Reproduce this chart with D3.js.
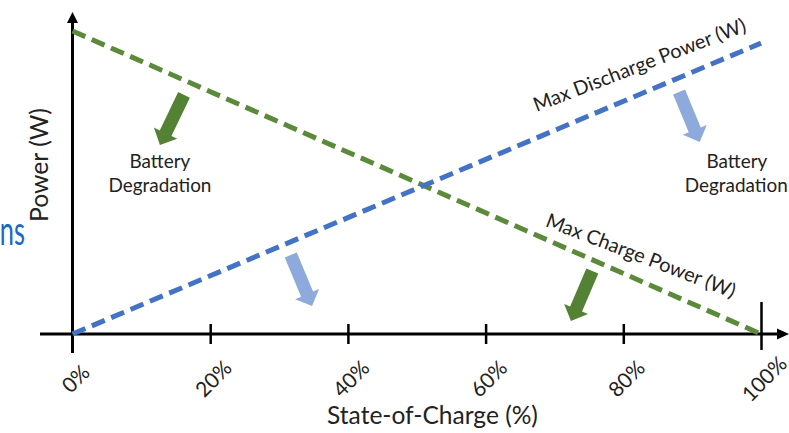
<!DOCTYPE html>
<html>
<head>
<meta charset="utf-8">
<script src="https://cdn.jsdelivr.net/npm/d3@7"></script>
<style>
  html, body { margin: 0; padding: 0; background: #fff; }
  svg { display: block; }
  text { font-family: Lato, "Open Sans", sans-serif; fill: #222; }
</style>
</head>
<body>
<svg id="chart" width="789" height="433"></svg>
<script>
// State-of-charge axis (percent) and its tick labels
const socTicks = [0, 20, 40, 60, 80, 100];
const socTickLabels = ["0%", "20%", "40%", "60%", "80%", "100%"];

// Power limits (relative units) at the two ends of the SOC range
const socPoints = [0, 100];
const maxChargePower = [100, 0];
const maxDischargePower = [0, 96];

// Degradation arrows: tail and tip in (SOC %, power) units
const chargeArrows = [
  { from: [16.2, 78.9], to: [12.7, 62.4] },
  { from: [75.5, 20.8], to: [72.4, 4.3] }
];
const dischargeArrows = [
  { from: [31.7, 26.1], to: [34.8, 9.2] },
  { from: [88.1, 79.9], to: [91.1, 63.4] }
];

// Annotation text anchors in (SOC %, power) units
const degradationNotes = [
  { lines: ["Battery", "Degradation"], soc: [12.7, 12.7], power: [54.9, 46.7] },
  { lines: ["Battery", "Degradation"], soc: [96.5, 96.4], power: [54.9, 46.7] }
];

const green = "#5b8a3a", greenArrow = "#548235";
const blue = "#4472c4", blueArrow = "#8eaadc";

const svg = d3.select("#chart");
const x = d3.scaleLinear().domain([0, 100]).range([72.5, 761]);
const y = d3.scaleLinear().domain([0, 100]).range([334, 31]);

// Scale a text element's font size so that it spans a given width
function fitWidth(sel, target) {
  const w = sel.node().getComputedTextLength();
  const fs = parseFloat(sel.attr("font-size"));
  sel.attr("font-size", fs * target / w);
  return fs * target / w;
}

// Partially visible heading text on the left edge
svg.append("text")
  .attr("transform", "translate(25,245) scale(0.62,1)")
  .attr("text-anchor", "end")
  .attr("font-size", 41)
  .style("fill", "#1a6bbf")
  .text("ns");

// ---- Axes ----
const axisG = svg.append("g");
// vertical power axis with arrowhead
axisG.append("line")
  .attr("x1", x(0)).attr("x2", x(0))
  .attr("y1", 353).attr("y2", 20)
  .attr("stroke", "#000").attr("stroke-width", 3);
axisG.append("path")
  .attr("d", `M${x(0)},12 L${x(0) - 5.5},23 L${x(0) + 5.5},23 Z`)
  .attr("fill", "#000");
// horizontal SOC axis with arrowhead
axisG.append("line")
  .attr("x1", 40).attr("x2", 780)
  .attr("y1", y(0)).attr("y2", y(0))
  .attr("stroke", "#000").attr("stroke-width", 3);
axisG.append("path")
  .attr("d", `M789,${y(0)} L777,${y(0) - 5.5} L777,${y(0) + 5.5} Z`)
  .attr("fill", "#000");

const xAxis = d3.axisBottom(x)
  .tickValues(socTicks)
  .tickFormat((d, i) => socTickLabels[i])
  .tickSize(0);
const xg = svg.append("g")
  .attr("transform", `translate(0,${y(0)})`)
  .call(xAxis);
xg.select(".domain").remove();
xg.selectAll(".tick line")
  .attr("y1", d => d === 100 ? -32 : -10)
  .attr("y2", d => d === 100 ? 16 : 10)
  .attr("stroke", "#000").attr("stroke-width", 2.5)
  .filter(d => d === 0).remove();
xg.selectAll(".tick text")
  .attr("font-size", 21)
  .attr("fill", "#222")
  .attr("dy", null)
  .attr("y", 0)
  .attr("text-anchor", "middle")
  .attr("dominant-baseline", "central")
  .attr("transform", "translate(2,44) rotate(-45)");

// Axis titles
const yTitle = svg.append("text")
  .attr("transform", "translate(48,165) rotate(-90)")
  .attr("text-anchor", "middle")
  .attr("font-size", 20)
  .text("Power (W)");
fitWidth(yTitle, 114);

const xTitle = svg.append("text")
  .attr("x", 432.5).attr("y", 424)
  .attr("text-anchor", "middle")
  .attr("font-size", 20)
  .text("State-of-Charge (%)");
fitWidth(xTitle, 211);

// ---- Power limit lines ----
const line = d3.line().x(d => x(d[0])).y(d => y(d[1]));
const chargeData = socPoints.map((s, i) => [s, maxChargePower[i]]);
const dischargeData = socPoints.map((s, i) => [s, maxDischargePower[i]]);

svg.append("path")
  .datum(chargeData)
  .attr("d", line)
  .attr("fill", "none")
  .attr("stroke", green).attr("stroke-width", 5)
  .attr("stroke-dasharray", "14,7");
svg.append("path")
  .datum(dischargeData)
  .attr("d", line)
  .attr("fill", "none")
  .attr("stroke", blue).attr("stroke-width", 5)
  .attr("stroke-dasharray", "14,7");

// Labels running along each line
function lineLabel(data, soc, offset, angle, text) {
  const t = soc / 100;
  const px = x(soc);
  const py = y(data[0][1] + (data[1][1] - data[0][1]) * t) - offset;
  return svg.append("text")
    .attr("transform", `translate(${px},${py}) rotate(${angle})`)
    .attr("text-anchor", "middle")
    .attr("font-size", 18)
    .text(text);
}
const dLabel = lineLabel(dischargeData, 82.7, 22, -21, "Max Discharge Power (W)");
const fs = fitWidth(dLabel, 226);
lineLabel(chargeData, 82.2, 18, 21, "Max Charge Power (W)").attr("font-size", fs);

// ---- Degradation arrows ----
function blockArrow(a, color) {
  const tx = x(a.from[0]), ty = y(a.from[1]);
  const px = x(a.to[0]), py = y(a.to[1]);
  const len = Math.hypot(px - tx, py - ty);
  const ux = (px - tx) / len, uy = (py - ty) / len;
  const nx = -uy, ny = ux;
  const sw = 6.5, hw = 13, hl = 13;
  const bx = px - ux * hl, by = py - uy * hl;
  const pts = [
    [tx + nx * sw, ty + ny * sw],
    [bx + nx * sw, by + ny * sw],
    [bx + nx * hw, by + ny * hw],
    [px, py],
    [bx - nx * hw, by - ny * hw],
    [bx - nx * sw, by - ny * sw],
    [tx - nx * sw, ty - ny * sw]
  ];
  svg.append("path")
    .attr("d", "M" + pts.map(p => p.join(",")).join("L") + "Z")
    .attr("fill", color);
}
chargeArrows.forEach(a => blockArrow(a, greenArrow));
dischargeArrows.forEach(a => blockArrow(a, blueArrow));

// ---- Degradation notes ----
let noteSize = null;
degradationNotes.forEach(n => {
  n.lines.forEach((s, i) => {
    const t = svg.append("text")
      .attr("x", x(n.soc[i])).attr("y", y(n.power[i]))
      .attr("text-anchor", "middle")
      .attr("font-size", noteSize || 16)
      .text(s);
    if (!noteSize && s === "Degradation") noteSize = fitWidth(t, 103);
  });
});
svg.selectAll("text").filter(function () { return this.textContent === "Battery"; })
  .attr("font-size", noteSize);
</script>
</body>
</html>
